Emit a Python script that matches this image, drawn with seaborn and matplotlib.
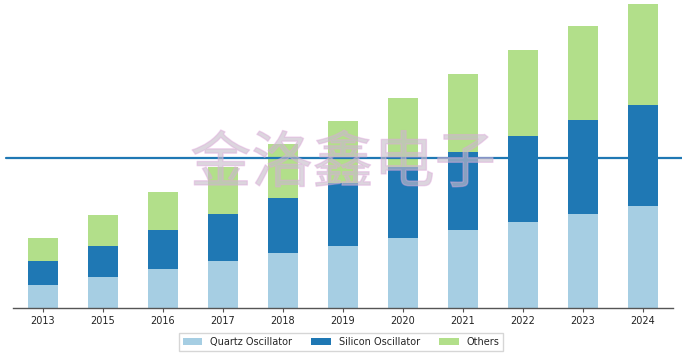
import matplotlib
matplotlib.use("Agg")
import matplotlib.pyplot as plt
import matplotlib.patheffects as pe
from matplotlib.patches import Patch
import seaborn as sns
import pandas as pd

years = ["2013", "2015", "2016", "2017", "2018", "2019", "2020", "2021", "2022", "2023", "2024"]
quartz = [2.3, 3.1, 3.9, 4.7, 5.5, 6.2, 7.0, 7.8, 8.6, 9.4, 10.2]
silicon = [2.4, 3.1, 3.9, 4.7, 5.5, 6.3, 7.1, 7.8, 8.6, 9.4, 10.1]
others = [2.3, 3.1, 3.8, 4.7, 5.4, 6.2, 6.9, 7.8, 8.6, 9.4, 10.1]
series = ["Quartz Oscillator", "Silicon Oscillator", "Others"]
ref_line = 15.0
watermark = "金洛鑫电子"


def main():
    sns.set_theme(style="white")
    plt.rcParams["font.family"] = ["DejaVu Sans", "Noto Sans CJK SC"]
    colors = sns.color_palette("Paired")[:3]

    df = pd.DataFrame({"year": years, "q": quartz, "s": silicon, "o": others})
    df["qs"] = df["q"] + df["s"]
    df["total"] = df["qs"] + df["o"]

    fig = plt.figure(figsize=(6.82, 3.54), dpi=100)
    ax = fig.add_axes([13 / 682, 46 / 354, 660 / 682, 308 / 354])

    # stacked by drawing cumulative sums, tallest first
    for col, color in zip(["total", "qs", "q"], colors[::-1]):
        sns.barplot(x="year", y=col, data=df, color=color, width=0.5,
                    errorbar=None, saturation=1, linewidth=0, ax=ax)

    ax.axhline(ref_line, xmin=-7 / 660, xmax=669 / 660, color=colors[1],
               lw=1.6, clip_on=False, zorder=6)

    ax.set_ylim(0, 30.8)
    ax.set_xlim(-0.5, len(years) - 0.5)
    ax.set_xlabel("")
    ax.set_ylabel("")
    ax.set_yticks([])
    sns.despine(ax=ax, left=True)
    ax.spines["bottom"].set_color("#555555")
    ax.spines["bottom"].set_linewidth(1.0)
    ax.tick_params(axis="x", bottom=True, length=3, width=0.8, color="#555555",
                   labelsize=7, labelcolor="#222222", pad=3)

    # faint outlined watermark
    fig.text(0.503, 0.535, watermark, ha="center", va="center", fontsize=44,
             family=["Noto Sans CJK SC"], fontweight="light",
             color="#c8bccb", alpha=0.3, zorder=5,
             path_effects=[pe.Stroke(linewidth=1.0, foreground="#e2a6de", alpha=0.45),
                           pe.Normal()])

    handles = [Patch(facecolor=c, edgecolor="none", label=s) for c, s in zip(colors, series)]
    fig.legend(handles=handles, loc="center", bbox_to_anchor=(0.5, 1 - 342 / 354),
               ncol=3, fontsize=7, frameon=True, edgecolor="#cccccc",
               fancybox=False, handleheight=0.6)

    fig.savefig("out.png", dpi=100)


if __name__ == "__main__":
    main()
